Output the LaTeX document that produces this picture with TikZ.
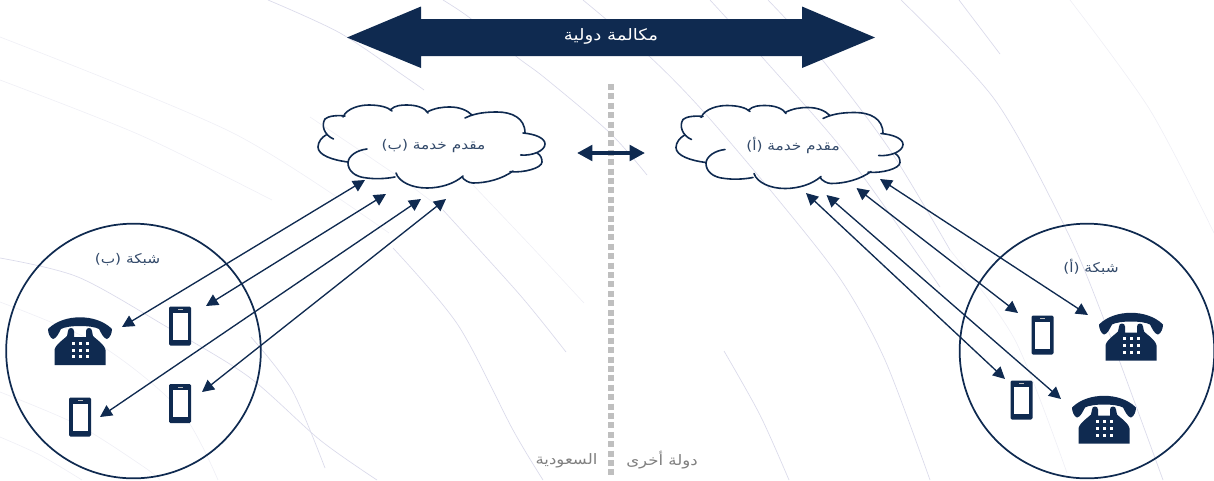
\documentclass[tikz,border=0pt]{standalone}
\usepackage{fontspec}
\newfontfamily\arabicfont[Script=Arabic,FakeStretch=1.15]{DejaVu Sans}
\TeXXeTstate=1
\usetikzlibrary{arrows.meta}
\definecolor{navy}{HTML}{0F2A50}
\definecolor{bgarc}{HTML}{DADAEA}
\definecolor{bgarcfaint}{HTML}{F0F0F6}
\definecolor{poleGray}{HTML}{BFBFBF}
\tikzset{
	bgline/.style={bgarc,line width=0.5pt},
	bgfaint/.style={bgarcfaint,line width=0.5pt},
	link/.style={navy,line width=1pt,{Triangle[length=9pt,width=9pt]}-{Triangle[length=9pt,width=9pt]}},
	netcircle/.style={circle,draw=navy,line width=1.3pt,minimum size=191pt,inner sep=0pt},
	label/.style={font=\arabicfont\fontsize{10}{12}\selectfont,text=navy!85!white,inner sep=0pt},
	mutedlabel/.style={font=\arabicfont\fontsize{10.8}{13}\selectfont,text=gray,inner sep=0pt},
	cloudpic/.pic={
		\draw[navy,line width=1.2pt,line cap=round]
			(-98.5,-7) ..controls(-108,-11) and (-111,-21).. (-107,-27) ..controls(-104,-30) and (-95,-31).. (-87,-30)
			(-89,-29) ..controls(-85,-38) and (-72,-41).. (-63,-41) ..controls(-53,-41) and (-44,-39).. (-40,-35)
			(-42,-36) ..controls(-37,-41) and (-30,-41).. (-25,-41) ..controls(-15,-41) and (-7,-38).. (-4,-33)
			(-5,-34) ..controls(3,-38) and (10,-39).. (18,-39) ..controls(27,-39) and (35,-36).. (40,-31)
			(33,-28) ..controls(43,-33) and (54,-34).. (65,-34) ..controls(80,-34) and (93,-28).. (93,-13)
			(91,-13) ..controls(103,-12) and (113,-8).. (113,-2) ..controls(113,5) and (100,10).. (88.7,9)
			(105,7) ..controls(109,9) and (110,13).. (110,16) ..controls(110,22) and (92,27).. (78,25.7)
			(81,25) ..controls(70,33) and (55,37).. (41,37) ..controls(37,37) and (32,34).. (30,31)
			(31,30) ..controls(22,38) and (8,42).. (-5,42) ..controls(-20,42) and (-33,36).. (-36,27)
			(-37,31) ..controls(-48,33) and (-57,33).. (-65,32) ..controls(-78,31) and (-84,24).. (-84,17) ..controls(-84,10) and (-75,4).. (-65,3)
			(-84,16) ..controls(-100,14) and (-114,9).. (-114,1) ..controls(-114,-4) and (-110,-9).. (-106,-11);
	},
	mobilepic/.pic={
		\fill[navy,rounded corners=1pt] (-11,-19.5) rectangle (11,19.5);
		\fill[white] (-7.5,-13.5) rectangle (7.5,13.5);
		\fill[poleGray] (-2.5,-17) rectangle (2.5,-16);
	},
	phonepic/.pic={
		\fill[navy] (-32,-12) ..controls(-24,-20) and (-12,-23.7).. (0,-23.7) ..controls(12,-23.7) and (24,-20).. (32,-12) ..controls(32,-8) and (30,-3).. (27,-2) ..controls(24,-2) and (21,-8).. (19,-12) ..controls(12,-16) and (-12,-16).. (-19,-12) ..controls(-21,-8) and (-24,-2).. (-27,-2) ..controls(-30,-3) and (-32,-8).. (-32,-12) -- cycle;
		\fill[navy] (-25.5,24) -- (-25.5,9) ..controls(-25,4) and (-16,-2).. (-13,-5) -- (-12,-10) ..controls(-12,-14) and (-6,-14).. (-6,-10) -- (-6,-4) -- (6,-4) -- (6,-10) ..controls(6,-14) and (12,-14).. (12,-10) -- (13,-5) ..controls(16,-2) and (25,4).. (25.5,9) -- (25.5,24) -- cycle;
		\foreach \dotx in {-7,0,7} \foreach \doty in {2.3,9,15.7} \fill[white] (\dotx-1.5,\doty-1.5) rectangle (\dotx+1.5,\doty+1.5);
	},
}
\begin{document}
\begin{tikzpicture}[x=0.75pt,y=-0.75pt]
	\useasboundingbox (0,0) rectangle (1214,480);
	%background arcs
	\draw[bgline] plot[smooth] coordinates {(268,0) (340,33) (407,78) (424,90)};
	\draw[bgline] plot[smooth] coordinates {(443,0) (470,18) (517,57) (545,78) (610,133) (647,175)};
	\draw[bgline] plot[smooth] coordinates {(583,0) (650,57) (702,110) (776,197) (841,280) (885,360) (930,480)};
	\draw[bgline] plot[smooth] coordinates {(710,0) (762,57) (835,140) (880,200) (940,287)};
	\draw[bgline] plot[smooth] coordinates {(768,0) (820,57) (890,150) (950,250)};
	\draw[bgline] plot[smooth] coordinates {(901,0) (995,100) (1065,227) (1103,317) (1163,480)};
	\draw[bgline] plot[smooth] coordinates {(959,0) (1000,54)};
	\draw[bgline] plot[smooth] coordinates {(724,351) (760,415) (789,480)};
	\draw[bgline] plot[smooth] coordinates {(251,337) (292,390) (325,468)};
	\draw[bgline] plot[smooth] coordinates {(0,258) (78,277) (167,327) (249,377) (320,440) (377,480)};
	\draw[bgline] plot[smooth] coordinates {(393,248) (458,325) (513,430) (543,480)};
	\draw[bgline] plot[smooth] coordinates {(443,210) (520,295) (566,352)};
	\draw[bgfaint] plot[smooth] coordinates {(0,302) (100,345) (180,410) (218,480)};
	\draw[bgfaint] plot[smooth] coordinates {(0,392) (78,425) (144,467) (160,480)};
	\draw[bgfaint] plot[smooth] coordinates {(0,437) (40,455) (82,480)};
	\draw[bgfaint] plot[smooth] coordinates {(310,117) (393,173) (443,210)};
	\draw[bgfaint] plot[smooth] coordinates {(0,37) (233,133) (389,233)};
	\draw[bgfaint] plot[smooth] coordinates {(0,80) (140,135) (272,200)};
	\draw[bgfaint] plot[smooth] coordinates {(473,185) (530,245) (584,303)};
	\draw[bgfaint] plot[smooth] coordinates {(950,250) (1015,340) (1067,473)};
	\draw[bgfaint] plot[smooth] coordinates {(1070,0) (1150,110) (1214,233)};
	%call arrow
	\fill[navy] (347,37.5) -- (421,6.5) -- (421,19) -- (802,19) -- (802,6.5) -- (875,37.5) -- (802,68) -- (802,56) -- (421,56) -- (421,68) -- cycle;
	\node[label,text=white,font=\arabicfont\fontsize{11.8}{14}\selectfont] (callLabel) at (611,36) {\beginR مكالمة دولية\endR};
	%border between the countries
	\coordinate (poleTop) at (611,84); \coordinate (poleEnd) at (611,476);
	\draw[poleGray,line width=4.5pt,dash pattern=on 4.5pt off 2.55pt] (poleTop) -- (poleEnd);
	\coordinate (peerB) at (577,153); \coordinate (peerA) at (645,153);
	\draw[navy,line width=3.5pt,{Triangle[length=11.5pt,width=11.5pt]}-{Triangle[length=11.5pt,width=11.5pt]}] (peerB) -- (peerA);
	\node[mutedlabel] (ksaLabel) at (566.5,460.5) {\beginR السعودية\endR};
	\node[mutedlabel] (otherLabel) at (662,460) {\beginR دولة أخرى\endR};
	%clouds
	\pic at (432,146) {cloudpic}; \pic at (790,146.5) {cloudpic};
	\node[label] (ispB) at (433.5,146.5) {\beginR مقدم خدمة (ب)\endR};
	\node[label] (ispA) at (793,145) {\beginR مقدم خدمة (أ)\endR};
	%networks
	\node[netcircle] (netB) at (133.5,351) {}; \node[netcircle] (netA) at (1087,351) {};
	\node[label] (netBLabel) at (127.5,260) {\beginR شبكة (ب)\endR};
	\node[label] (netALabel) at (1091,267) {\beginR شبكة (أ)\endR};
	\pic at (80,341) {phonepic}; \pic at (1131,336.5) {phonepic}; \pic at (1104,419.5) {phonepic};
	\pic at (180,326) {mobilepic}; \pic at (180,403.5) {mobilepic}; \pic at (80,417) {mobilepic};
	\pic at (1042.5,335) {mobilepic}; \pic at (1021.5,400) {mobilepic};
	%links
	\coordinate (b1) at (365,180); \coordinate (b1e) at (122,327);
	\coordinate (b2) at (386,194); \coordinate (b2e) at (206,306);
	\coordinate (b3) at (421,199); \coordinate (b3e) at (100,417);
	\coordinate (b4) at (446,199); \coordinate (b4e) at (202,392);
	\coordinate (a1) at (880,179); \coordinate (a1e) at (1088,315);
	\coordinate (a2) at (856.5,188); \coordinate (a2e) at (1018,313);
	\coordinate (a3) at (826.5,195); \coordinate (a3e) at (1061,399);
	\coordinate (a4) at (806,193); \coordinate (a4e) at (1005,379);
	\foreach \linkend in {b1,b2,b3,b4,a1,a2,a3,a4} \draw[link] (\linkend) -- (\linkend e);
\end{tikzpicture}
\end{document}
